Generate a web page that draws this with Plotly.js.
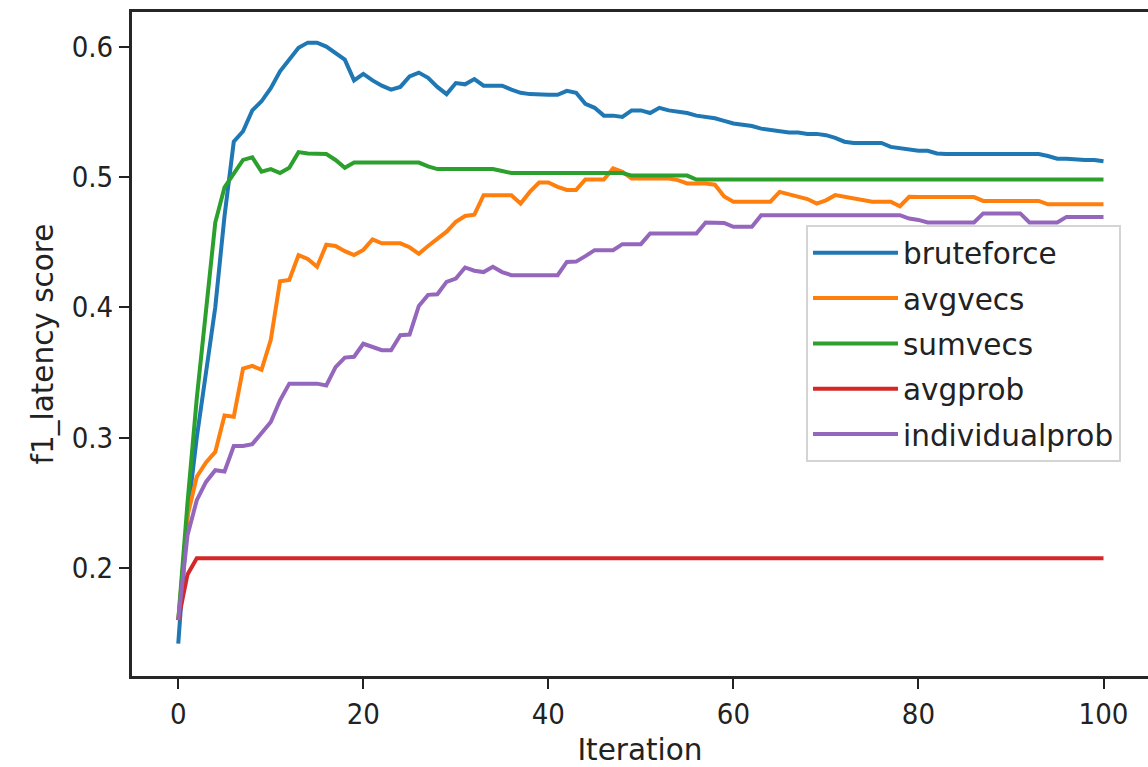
<!DOCTYPE html>
<html>
<head>
<meta charset="utf-8">
<script src="https://cdn.plot.ly/plotly-3.0.1.min.js"></script>
<style>
html, body { margin: 0; padding: 0; background: #fff; }
#chart { width: 1148px; height: 767px; }
</style>
</head>
<body>
<div id="chart"></div>
<script>
const iterations = [
  0,1,2,3,4,5,6,7,8,9,10,11,12,13,14,15,16,17,18,19,20,21,22,23,24,25,26,27,28,29,30,
  31,32,33,34,35,36,37,38,39,40,41,42,43,44,45,46,47,48,49,50,51,52,53,54,55,56,57,58,59,60,
  61,62,63,64,65,66,67,68,69,70,71,72,73,74,75,76,77,78,79,80,81,82,83,84,85,86,87,88,89,90,
  91,92,93,94,95,96,97,98,99,100
];

const bruteforce = [
  0.142,0.24,0.30,0.35,0.40,0.47,0.527,0.535,0.551,0.558,
  0.568,0.581,0.590,0.599,0.603,0.603,0.600,0.595,0.590,0.574,
  0.579,0.574,0.570,0.567,0.569,0.577,0.580,0.576,0.569,0.5635,
  0.572,0.571,0.575,0.570,0.570,0.570,0.567,0.5645,0.5635,0.563,
  0.563,0.563,0.566,0.5645,0.556,0.553,0.547,0.547,0.546,0.551,
  0.551,0.549,0.553,0.551,0.550,0.549,0.547,0.546,0.545,0.543,
  0.541,0.540,0.539,0.537,0.536,0.535,0.534,0.534,0.533,0.533,
  0.532,0.530,0.527,0.526,0.526,0.526,0.526,0.523,0.522,0.521,
  0.520,0.520,0.518,0.5175,0.5175,0.5175,0.5175,0.5175,0.5175,0.5175,
  0.5175,0.5175,0.5175,0.5175,0.516,0.514,0.514,0.5134,0.513,0.513,
  0.512
];

const avgvecs = [
  0.16,0.24,0.270,0.281,0.289,0.317,0.316,0.353,0.355,0.352,
  0.375,0.420,0.421,0.440,0.437,0.431,0.448,0.447,0.443,0.440,
  0.444,0.452,0.449,0.449,0.449,0.446,0.441,0.447,0.453,0.458,
  0.4655,0.470,0.471,0.486,0.486,0.486,0.486,0.4796,0.4885,0.4957,
  0.4957,0.4924,0.490,0.490,0.498,0.498,0.498,0.5065,0.504,0.4988,
  0.4988,0.4988,0.4988,0.4988,0.4975,0.495,0.495,0.495,0.494,0.485,
  0.481,0.481,0.481,0.481,0.481,0.4885,0.4865,0.4847,0.483,0.4795,
  0.482,0.486,0.4847,0.4834,0.482,0.481,0.481,0.481,0.4775,0.4847,
  0.4845,0.4845,0.4845,0.4845,0.4845,0.4845,0.4845,0.4816,0.4816,0.4816,
  0.4816,0.4816,0.4816,0.4816,0.479,0.479,0.479,0.479,0.479,0.479,
  0.479
];

const sumvecs = [
  0.16,0.25,0.33,0.40,0.465,0.492,0.503,0.513,0.515,0.504,
  0.506,0.503,0.507,0.519,0.518,0.518,0.5175,0.513,0.507,0.511,
  0.511,0.511,0.511,0.511,0.511,0.511,0.511,0.508,0.506,0.506,
  0.506,0.506,0.506,0.506,0.506,0.5045,0.503,0.503,0.503,0.503,
  0.503,0.503,0.503,0.503,0.503,0.503,0.503,0.503,0.503,0.501,
  0.501,0.501,0.501,0.501,0.501,0.501,0.498,0.498,0.498,0.498,
  0.498,0.498,0.498,0.498,0.498,0.498,0.498,0.498,0.498,0.498,
  0.498,0.498,0.498,0.498,0.498,0.498,0.498,0.498,0.498,0.498,
  0.498,0.498,0.498,0.498,0.498,0.498,0.498,0.498,0.498,0.498,
  0.498,0.498,0.498,0.498,0.498,0.498,0.498,0.498,0.498,0.498,
  0.498
];

const avgprob = [
  0.16,0.195,0.2075,0.2075,0.2075,0.2075,0.2075,0.2075,0.2075,0.2075,
  0.2075,0.2075,0.2075,0.2075,0.2075,0.2075,0.2075,0.2075,0.2075,0.2075,
  0.2075,0.2075,0.2075,0.2075,0.2075,0.2075,0.2075,0.2075,0.2075,0.2075,
  0.2075,0.2075,0.2075,0.2075,0.2075,0.2075,0.2075,0.2075,0.2075,0.2075,
  0.2075,0.2075,0.2075,0.2075,0.2075,0.2075,0.2075,0.2075,0.2075,0.2075,
  0.2075,0.2075,0.2075,0.2075,0.2075,0.2075,0.2075,0.2075,0.2075,0.2075,
  0.2075,0.2075,0.2075,0.2075,0.2075,0.2075,0.2075,0.2075,0.2075,0.2075,
  0.2075,0.2075,0.2075,0.2075,0.2075,0.2075,0.2075,0.2075,0.2075,0.2075,
  0.2075,0.2075,0.2075,0.2075,0.2075,0.2075,0.2075,0.2075,0.2075,0.2075,
  0.2075,0.2075,0.2075,0.2075,0.2075,0.2075,0.2075,0.2075,0.2075,0.2075,
  0.2075
];

const individualprob = [
  0.16,0.225,0.252,0.266,0.275,0.274,0.2935,0.2935,0.295,0.303,
  0.312,0.3286,0.3414,0.3414,0.3414,0.3414,0.340,0.354,0.3614,0.362,
  0.372,0.3695,0.367,0.367,0.3785,0.379,0.401,0.4095,0.410,0.4195,
  0.422,0.4305,0.428,0.427,0.431,0.427,0.4246,0.4246,0.4246,0.4246,
  0.4246,0.4246,0.4348,0.435,0.4392,0.4438,0.4438,0.4438,0.4484,0.4484,
  0.4484,0.4566,0.4566,0.4566,0.4566,0.4566,0.4566,0.465,0.4647,0.4647,
  0.4617,0.4617,0.4617,0.4706,0.4706,0.4706,0.4706,0.4706,0.4706,0.4706,
  0.4706,0.4706,0.4706,0.4706,0.4706,0.4706,0.4706,0.4706,0.4706,0.468,
  0.467,0.465,0.465,0.465,0.465,0.465,0.465,0.472,0.472,0.472,
  0.472,0.472,0.465,0.465,0.465,0.465,0.4693,0.4693,0.4693,0.4693,
  0.4693
];

const seriesNames = ['bruteforce','avgvecs','sumvecs','avgprob','individualprob'];
const seriesValues = [bruteforce, avgvecs, sumvecs, avgprob, individualprob];
const seriesColors = ['#1f77b4','#ff7f0e','#2ca02c','#d62728','#9467bd'];

const xTickVals = [0,20,40,60,80,100];
const yTickVals = [0.2,0.3,0.4,0.5,0.6];
const yTickText = ['0.2','0.3','0.4','0.5','0.6'];

const traces = seriesNames.map((name, i) => ({
  type: 'scatter',
  mode: 'lines',
  name: name,
  legendgroup: name,
  x: iterations,
  y: seriesValues[i],
  line: { color: seriesColors[i], width: 4 },
  hoverinfo: 'skip'
}));

const textFont = { family: 'DejaVu Sans, sans-serif', color: '#222' };
const tickFont = { family: 'DejaVu Sans Condensed, DejaVu Sans, sans-serif', color: '#222', size: 29 };

const layout = {
  width: 1148,
  height: 767,
  margin: { l: 132, r: 0, t: 12, b: 91 },
  paper_bgcolor: '#fff',
  plot_bgcolor: '#fff',
  font: Object.assign({ size: 29 }, textFont),
  showlegend: true,
  legend: {
    x: (806 - 132) / 1016,
    y: (676 - 225) / 664,
    xanchor: 'left',
    yanchor: 'top',
    bgcolor: 'rgba(255,255,255,0.85)',
    bordercolor: '#d4d4d4',
    borderwidth: 2,
    font: Object.assign({ size: 29.5 }, textFont),
    traceorder: 'grouped',
    tracegroupgap: 4,
    itemwidth: 85
  },
  xaxis: {
    range: [-5, 104.81],
    tickvals: xTickVals,
    ticks: 'outside',
    ticklen: 10,
    tickwidth: 2,
    tickcolor: '#222',
    showgrid: false,
    zeroline: false,
    showline: true,
    linecolor: '#262626',
    linewidth: 3,
    mirror: true,
    tickfont: tickFont,
    title: { text: 'Iteration', font: Object.assign({ size: 29.5 }, textFont), standoff: 15 }
  },
  yaxis: {
    range: [0.1171, 0.6265],
    tickvals: yTickVals,
    ticktext: yTickText,
    ticks: 'outside',
    ticklen: 10,
    tickwidth: 2,
    tickcolor: '#222',
    showgrid: false,
    zeroline: false,
    showline: true,
    linecolor: '#262626',
    linewidth: 3,
    mirror: false,
    tickfont: tickFont,
    title: { text: 'f1_latency score', font: Object.assign({ size: 29.5 }, textFont), standoff: 10 }
  }
};

Plotly.newPlot('chart', traces, layout, { displayModeBar: false, staticPlot: true });
</script>
</body>
</html>
